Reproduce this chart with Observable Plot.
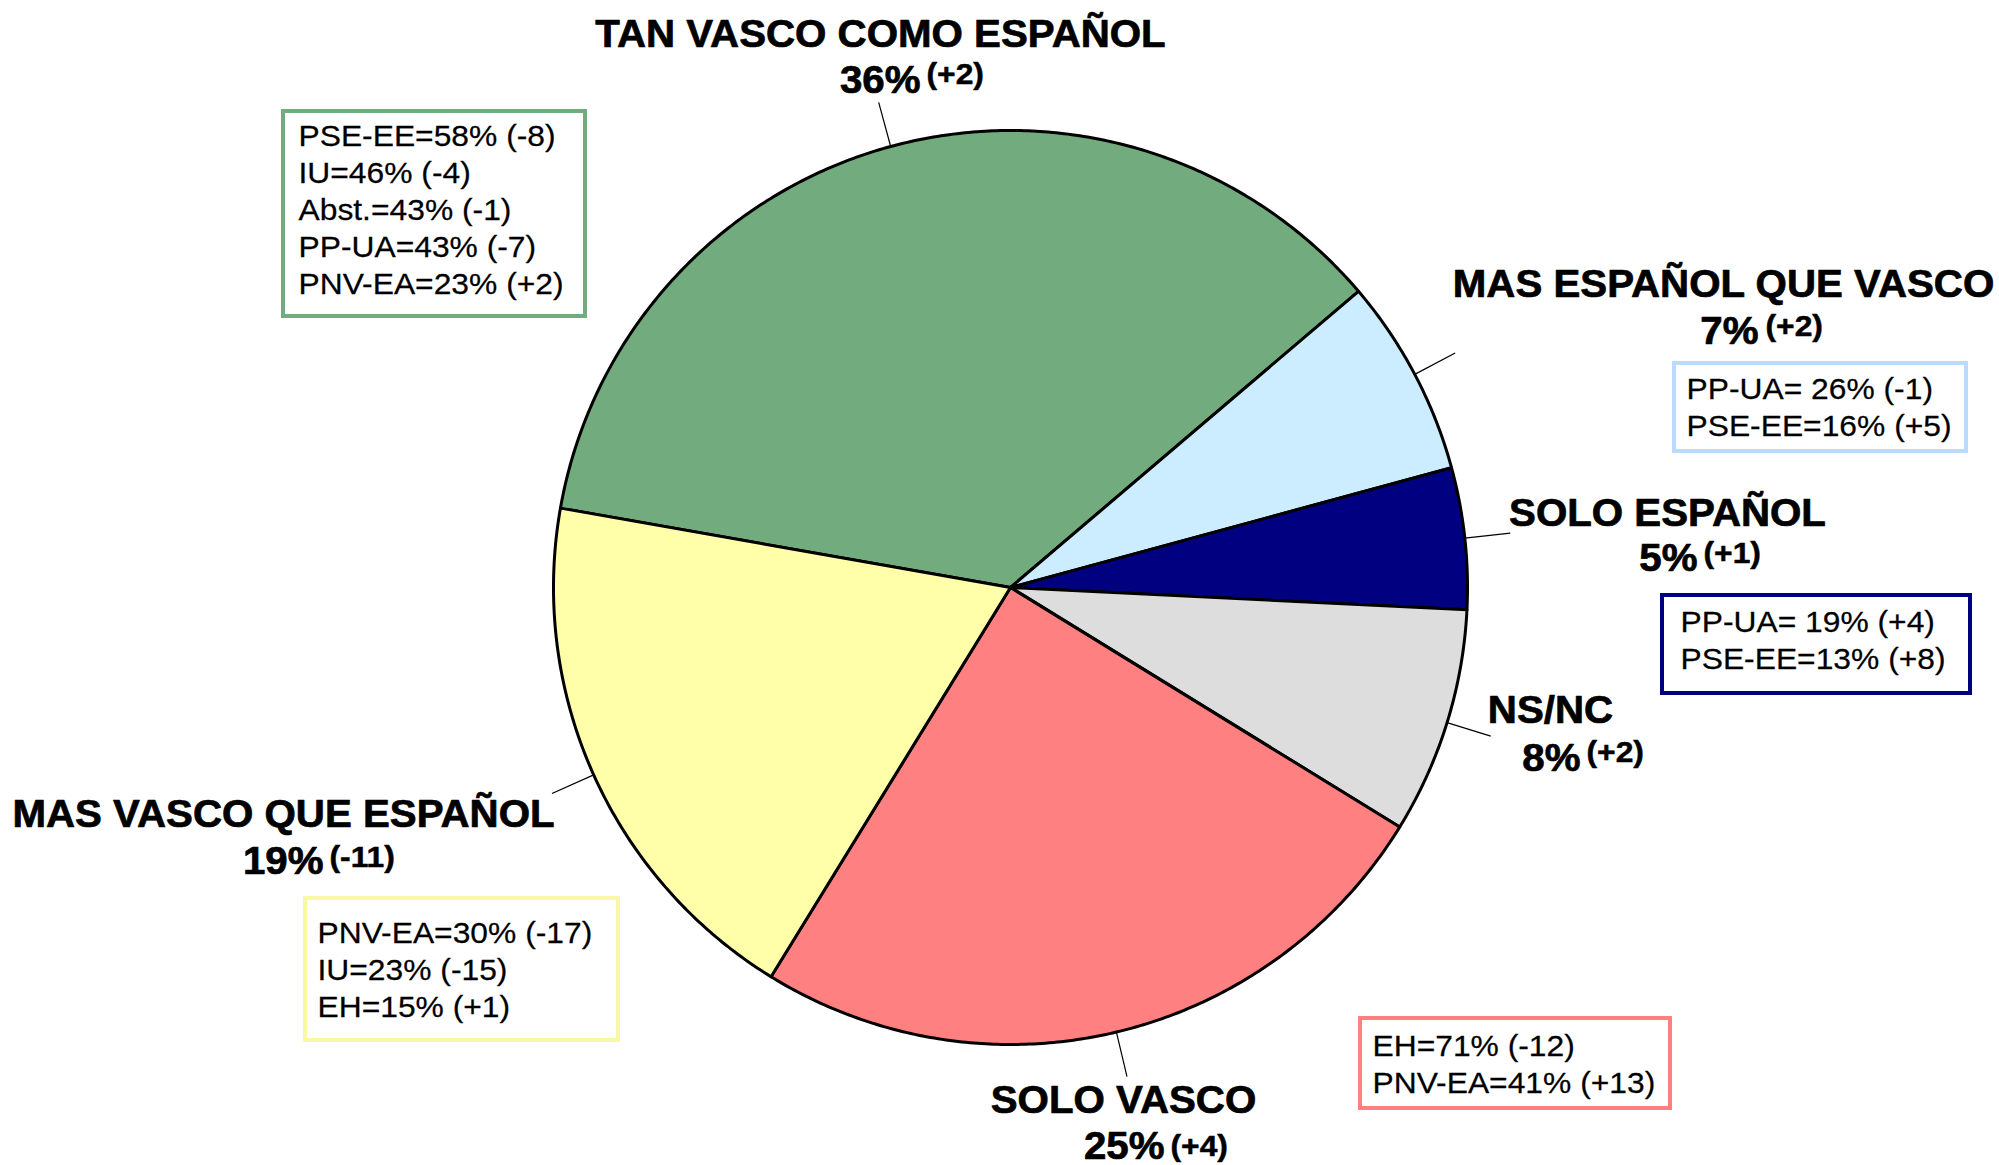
<!DOCTYPE html>
<html><head><meta charset="utf-8">
<script src="https://cdn.jsdelivr.net/npm/d3@7"></script>
<script src="https://cdn.jsdelivr.net/npm/@observablehq/plot@0.6"></script>
<style>html,body{margin:0;padding:0;background:#fff;}svg{display:block}</style>
</head><body><div id="chart"></div>
<script>
// ---------- DATA ----------
const categories = ["TAN VASCO COMO ESPAÑOL","MAS ESPAÑOL QUE VASCO","SOLO ESPAÑOL","NS/NC","SOLO VASCO","MAS VASCO QUE ESPAÑOL"];
const shares = [36, 7, 5, 8, 25, 19];
const changes = ["(+2)", "(+2)", "(+1)", "(+2)", "(+4)", "(-11)"];
const partyLines = [
  ["PSE-EE=58% (-8)", "IU=46% (-4)", "Abst.=43% (-1)", "PP-UA=43% (-7)", "PNV-EA=23% (+2)"],
  ["PP-UA= 26% (-1)", "PSE-EE=16% (+5)"],
  ["PP-UA= 19% (+4)", "PSE-EE=13% (+8)"],
  [],
  ["EH=71% (-12)", "PNV-EA=41% (+13)"],
  ["PNV-EA=30% (-17)", "IU=23% (-15)", "EH=15% (+1)"]
];

// ---------- STYLE ----------
const sliceFills = ["#72AC7E", "#CCECFF", "#000080", "#DDDDDD", "#FF8080", "#FFFFAA"];
const boxStrokes = ["#72AC7E", "#B9DBFF", "#000080", null, "#FF8080", "#F8F8A6"];
const FONT = "'Liberation Sans', Arial, Helvetica, sans-serif";
const TEXT_STRETCH = 1.06;

// ---------- LAYOUT (pixels) ----------
const W = 1999, H = 1165, CX = 1010, CY = 587, R = 457;
const START_DEG = -80; // where the first slice begins, clockwise from north
// label: line-1 centre & baseline, value right edge & baseline, change left edge & baseline
const labelLayout = [
  {lx: 880, ly: 46,  vx: 920,  vy: 92,  cx: 926,  cy: 83},
  {lx: 1723, ly: 296, vx: 1758, vy: 343, cx: 1765, cy: 335},
  {lx: 1667, ly: 525, vx: 1697, vy: 570, cx: 1703, cy: 562},
  {lx: 1550, ly: 722, vx: 1580, vy: 770, cx: 1586, cy: 761},
  {lx: 1123, ly: 1112, vx: 1164, vy: 1158, cx: 1170, cy: 1155},
  {lx: 283, ly: 826, vx: 323, vy: 873, cx: 329, cy: 866}
];
const boxLayout = [
  {x1: 283, x2: 585, y1: 111, y2: 316, tx: 298, ty: 293},
  {x1: 1674, x2: 1966, y1: 363, y2: 451, tx: 1686, ty: 435},
  {x1: 1662, x2: 1970, y1: 595, y2: 693, tx: 1680, ty: 668},
  null,
  {x1: 1360, x2: 1670, y1: 1018, y2: 1108, tx: 1372, ty: 1092},
  {x1: 305, x2: 618, y1: 898, y2: 1040, tx: 317, ty: 1016}
];

// pixel -> data units (pie radius = 1)
const dx = px => (px - CX) / R;
const dy = py => (CY - py) / R;

// ---------- PIE GEOMETRY ----------
const start = START_DEG * Math.PI / 180;
const arcs = d3.pie().sort(null).startAngle(start).endAngle(start + 2 * Math.PI)(shares);

const slicePts = [];
arcs.forEach((a, i) => {
  const n = Math.max(4, Math.ceil((a.endAngle - a.startAngle) / (Math.PI / 360)));
  slicePts.push({k: i, x: 0, y: 0, c: sliceFills[i]});
  for (let j = 0; j <= n; j++) {
    const t = a.startAngle + (a.endAngle - a.startAngle) * j / n;
    slicePts.push({k: i, x: Math.sin(t), y: Math.cos(t), c: sliceFills[i]});
  }
  slicePts.push({k: i, x: 0, y: 0, c: sliceFills[i]});
});

const leaders = arcs.map((a, i) => {
  const m = (a.startAngle + a.endAngle) / 2;
  return {x1: Math.sin(m), y1: Math.cos(m), x2: 1.1 * Math.sin(m), y2: 1.1 * Math.cos(m)};
});

const titles = categories.map((c, i) => ({t: c, x: dx(labelLayout[i].lx), y: dy(labelLayout[i].ly)}));
const valuesTxt = shares.map((v, i) => ({t: v + "%", x: dx(labelLayout[i].vx), y: dy(labelLayout[i].vy)}));
const changeTxt = changes.map((v, i) => ({t: v, x: dx(labelLayout[i].cx), y: dy(labelLayout[i].cy)}));
const boxes = partyLines.map((lines, i) => lines.length ? ({
  x1: dx(boxLayout[i].x1), x2: dx(boxLayout[i].x2), y1: dy(boxLayout[i].y1), y2: dy(boxLayout[i].y2),
  tx: dx(boxLayout[i].tx), ty: dy(boxLayout[i].ty), text: lines.join("\n"), stroke: boxStrokes[i]
}) : null).filter(Boolean);

const bold = {fontWeight: "bold", fill: "#000", stroke: "#000", strokeWidth: 0.7, fontFamily: FONT};

const chart = Plot.plot({
  width: W, height: H,
  margin: 0,
  x: {domain: [dx(0), dx(W)], axis: null},
  y: {domain: [dy(H), dy(0)], axis: null},
  color: {type: "identity"},
  style: {fontFamily: FONT, background: "#fff"},
  marks: [
    Plot.line(slicePts, {x: "x", y: "y", z: "k", fill: "c", stroke: "#000", strokeWidth: 3, strokeLinejoin: "round", curve: "linear"}),
    Plot.link(leaders, {x1: "x1", y1: "y1", x2: "x2", y2: "y2", stroke: "#000", strokeWidth: 1.2}),
    Plot.rect(boxes, {x1: "x1", x2: "x2", y1: "y1", y2: "y2", fill: "#fff", stroke: "stroke", strokeWidth: 4}),
    Plot.text(boxes, {x: "tx", y: "ty", text: "text", textAnchor: "start", lineAnchor: "bottom", lineHeight: 1.233, fontSize: 30, fill: "#000", stroke: "#000", strokeWidth: 0.25, fontFamily: FONT}),
    Plot.text(titles, {x: "x", y: "y", text: "t", textAnchor: "middle", lineAnchor: "bottom", fontSize: 38, ...bold}),
    Plot.text(valuesTxt, {x: "x", y: "y", text: "t", textAnchor: "end", lineAnchor: "bottom", fontSize: 38, ...bold}),
    Plot.text(changeTxt, {x: "x", y: "y", text: "t", textAnchor: "start", lineAnchor: "bottom", fontSize: 30, ...bold, strokeWidth: 0.5})
  ]
});
// widen the glyphs slightly around each text anchor, as in the reference
d3.select(chart).selectAll("text").each(function () {
  const t = this.getAttribute("transform") || "";
  this.setAttribute("transform", t + ` scale(${TEXT_STRETCH},1)`);
});
document.getElementById("chart").appendChild(chart);
</script>
</body></html>
